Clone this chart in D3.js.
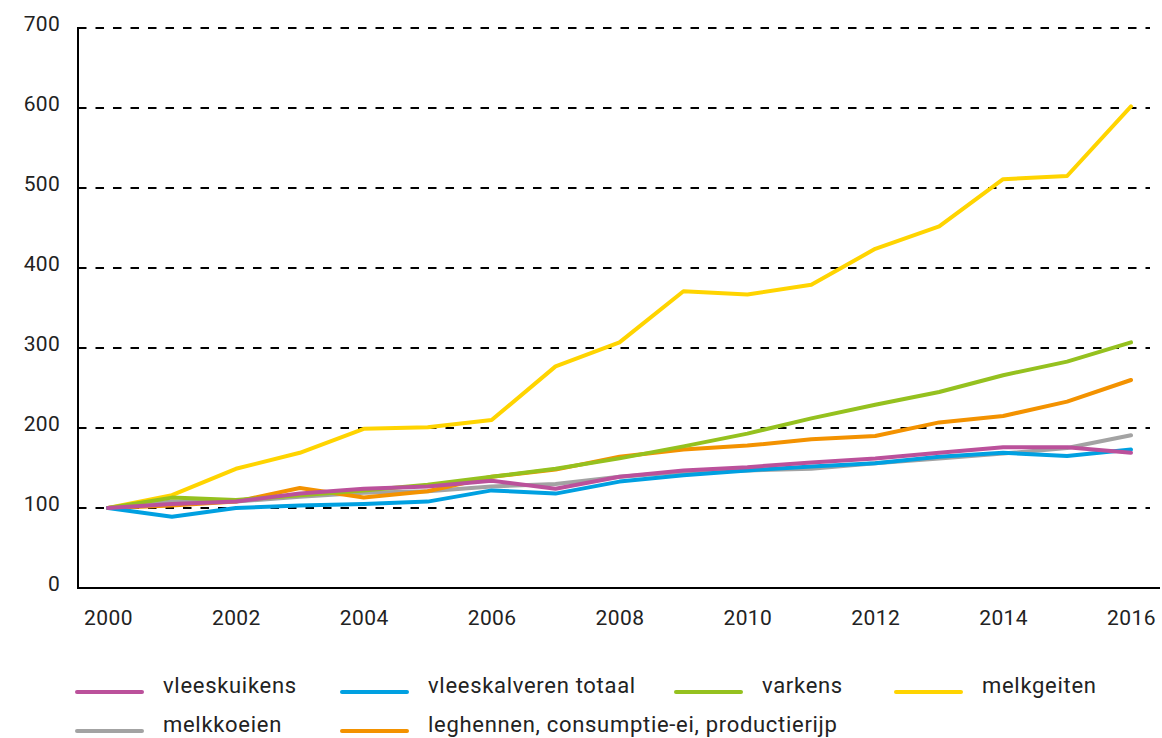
<!DOCTYPE html>
<html>
<head>
<meta charset="utf-8">
<script src="https://cdnjs.cloudflare.com/ajax/libs/d3/7.8.5/d3.min.js"></script>
<style>
  body { margin: 0; background: #fff; }
  text { font-family: Roboto, "Liberation Sans", sans-serif; fill: #222; }
</style>
</head>
<body>
<div id="chart"></div>
<script>
const years = [2000, 2001, 2002, 2003, 2004, 2005, 2006, 2007, 2008, 2009, 2010, 2011, 2012, 2013, 2014, 2015, 2016];
const yearTicks = [2000, 2002, 2004, 2006, 2008, 2010, 2012, 2014, 2016];
const valueTicks = [0, 100, 200, 300, 400, 500, 600, 700];

const vleeskuikens = [100, 105, 108, 118, 124, 127, 134, 124, 139, 147, 151, 157, 162, 169, 176, 176, 169];
const vleeskalveren = [100, 89, 100, 103, 105, 108, 122, 118, 133, 141, 147, 152, 156, 164, 169, 165, 173];
const varkens = [100, 113, 110, 116, 122, 129, 139, 149, 162, 177, 193, 212, 229, 245, 266, 283, 307];
const melkgeiten = [100, 116, 149, 169, 199, 201, 210, 277, 307, 371, 367, 379, 424, 452, 511, 515, 602];
const melkkoeien = [100, 108, 108, 114, 119, 121, 127, 130, 139, 145, 147, 149, 156, 162, 168, 175, 191];
const leghennen = [100, 103, 108, 125, 113, 121, 139, 148, 164, 173, 178, 186, 190, 207, 215, 233, 260];

// legend order
const series = [
  { name: "vleeskuikens", values: vleeskuikens, color: "#bb519b" },
  { name: "vleeskalveren totaal", values: vleeskalveren, color: "#00a0e1" },
  { name: "varkens", values: varkens, color: "#95c11f" },
  { name: "melkgeiten", values: melkgeiten, color: "#ffd400" },
  { name: "melkkoeien", values: melkkoeien, color: "#a3a3a3" },
  { name: "leghennen, consumptie-ei, productierijp", values: leghennen, color: "#f39200" }
];
// drawing order (bottom -> top)
const drawOrder = ["melkgeiten", "melkkoeien", "leghennen, consumptie-ei, productierijp", "varkens", "vleeskalveren totaal", "vleeskuikens"];

const W = 1162, H = 738;
const svg = d3.select("#chart").append("svg")
  .attr("width", W).attr("height", H);

const x = d3.scaleLinear().domain([2000, 2016]).range([108, 1131]);
const y = d3.scaleLinear().domain([0, 700]).range([588, 28]);
const left = 78, gridRight = 1150, axisRight = 1160;

// gridlines
svg.append("g").selectAll("line")
  .data(valueTicks.filter(d => d > 0))
  .enter().append("line")
  .attr("x1", left).attr("x2", gridRight)
  .attr("y1", d => y(d)).attr("y2", d => y(d))
  .attr("stroke", "#000")
  .attr("stroke-width", 2)
  .attr("stroke-dasharray", "8.5,9");

// y axis labels
const yAxis = svg.append("g")
  .attr("transform", `translate(${left},0)`)
  .call(d3.axisLeft(y).tickValues(valueTicks).tickSize(0).tickPadding(18));
yAxis.select(".domain").remove();
yAxis.selectAll("text")
  .attr("dy", "0.1em")
  .style("font-size", "21px")
  .style("letter-spacing", "0.3px")
  .style("font-family", "Roboto, 'Liberation Sans', sans-serif")
  .attr("fill", "#222");

// x axis labels
const xAxis = svg.append("g")
  .attr("transform", `translate(0,${y(0)})`)
  .call(d3.axisBottom(x).tickValues(yearTicks).tickFormat(d3.format("d")).tickSize(0).tickPadding(22));
xAxis.select(".domain").remove();
xAxis.selectAll("text")
  .style("font-size", "21px")
  .style("letter-spacing", "0.4px")
  .style("font-family", "Roboto, 'Liberation Sans', sans-serif")
  .attr("fill", "#222");

// axis lines
svg.append("line")
  .attr("x1", left).attr("x2", left)
  .attr("y1", y(700) - 1).attr("y2", y(0))
  .attr("stroke", "#000").attr("stroke-width", 2);
svg.append("line")
  .attr("x1", left - 1).attr("x2", axisRight)
  .attr("y1", y(0)).attr("y2", y(0))
  .attr("stroke", "#000").attr("stroke-width", 2);

// lines
const line = d3.line()
  .x((d, i) => x(years[i]))
  .y(d => y(d));

svg.append("g").selectAll("path")
  .data(drawOrder.map(n => series.find(s => s.name === n)))
  .enter().append("path")
  .attr("d", d => line(d.values))
  .attr("fill", "none")
  .attr("stroke", d => d.color)
  .attr("stroke-width", 4)
  .attr("stroke-linejoin", "round")
  .attr("stroke-linecap", "round");

// legend
const legendCols = [77, 342, 676, 896];
const legendRows = [692, 731];
const legend = svg.append("g").selectAll("g")
  .data(series)
  .enter().append("g")
  .attr("transform", (d, i) => `translate(${legendCols[i % 4]},${legendRows[Math.floor(i / 4)]})`);

legend.append("line")
  .attr("x1", 0).attr("x2", 65)
  .attr("y1", 0).attr("y2", 0)
  .attr("stroke", d => d.color)
  .attr("stroke-width", 4)
  .attr("stroke-linecap", "round");

legend.append("text")
  .attr("x", 86)
  .attr("y", 1)
  .style("font-size", "22px")
  .style("letter-spacing", "0.7px")
  .text(d => d.name);
</script>
</body>
</html>
